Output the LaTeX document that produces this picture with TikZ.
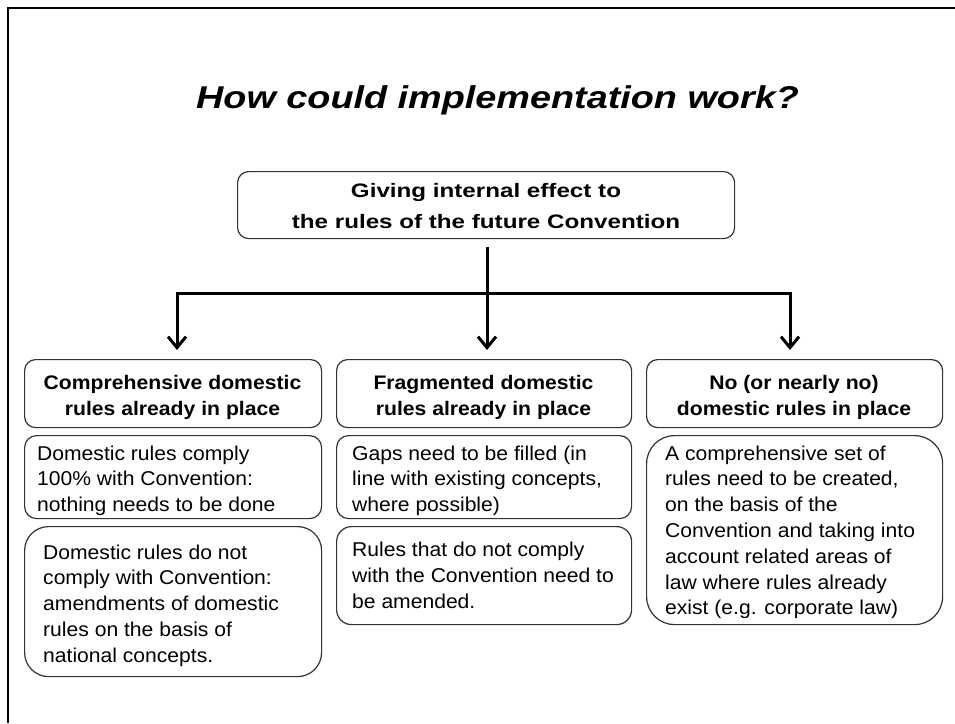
\documentclass[tikz,border=0pt]{standalone}
\usepackage{fontspec}
\setmainfont{Liberation Sans}
\newfontfamily\titlef[FakeStretch=1.2]{Liberation Sans}
\newfontfamily\topf[FakeStretch=1.24]{Liberation Sans}
\newfontfamily\headf[FakeStretch=1.08]{Liberation Sans}
\newfontfamily\bodyf[FakeStretch=1.055]{Liberation Sans}
\usetikzlibrary{arrows.meta}
\newcommand\bodysz{\bodyf\fontsize{20}{25.8}\selectfont}
\newcommand\headsz{\headf\bfseries\fontsize{19.6}{26}\selectfont}
\begin{document}
\begin{tikzpicture}[x=1pt,y=-1pt,
  box/.style={draw=black!80, line width=1.2pt, rounded corners=#1, inner sep=0pt,
    anchor=north west, fill=white},
  box/.default=11pt,
  txt/.style={inner sep=0pt, anchor=base west, text=black},
  ctxt/.style={inner sep=0pt, anchor=base, text=black},
  conn/.style={draw=black, line width=3pt, line join=miter},
  tip/.tip={Straight Barb[length=11pt,width=18pt]}]
\useasboundingbox (0,0) rectangle (955,723);
% frame
\draw[line width=2.5pt, line join=miter] (8,723) -- (8,8) -- (955,8);
% title
\node[ctxt] (title) at (497.5,108)
  {\titlef\bfseries\itshape\fontsize{31.5}{36}\selectfont How could implementation work?};
% top box
\node[box=11pt, minimum width=497pt, minimum height=67pt] (top) at (237,171) {};
\node[ctxt] (toptxt) at (486,197.7)
  {\parbox[t]{480pt}{\centering\topf\bfseries\fontsize{19.5}{30.3}\selectfont
   Giving internal effect to\\the rules of the future Convention}};
% column boxes
\node[box=11pt, minimum width=297pt, minimum height=68pt] (L1) at (24,359) {};
\node[box=12pt, minimum width=297pt, minimum height=83pt] (L2) at (24,435) {};
\node[box=24pt, minimum width=297pt, minimum height=150pt] (L3) at (24,526) {};
\node[box=11pt, minimum width=295pt, minimum height=68pt] (M1) at (336,359) {};
\node[box=12pt, minimum width=295pt, minimum height=83pt] (M2) at (336,435) {};
\node[box=15pt, minimum width=295pt, minimum height=98pt] (M3) at (336,526) {};
\node[box=11pt, minimum width=296pt, minimum height=68pt] (R1) at (646,359) {};
\node[box=28pt, minimum width=296pt, minimum height=189pt] (R2) at (646,435) {};
% header texts
\node[ctxt] (L1t) at (172.5,389)
  {\parbox[t]{297pt}{\centering\headsz Comprehensive domestic\\rules already in place}};
\node[ctxt] (M1t) at (483.5,389)
  {\parbox[t]{295pt}{\centering\headsz Fragmented domestic\\rules already in place}};
\node[ctxt] (R1t) at (794,389)
  {\parbox[t]{296pt}{\centering\headsz No (or nearly no)\\domestic rules in place}};
% body texts
\node[txt] (L2t) at (37,460)
  {\parbox[t]{300pt}{\bodysz Domestic rules comply\\100\% with Convention:\\nothing needs to be done}};
\node[txt] (L3t) at (43,559)
  {\parbox[t]{300pt}{\bodysz Domestic rules do not\\comply with Convention:\\amendments of domestic\\rules on the basis of\\national concepts.}};
\node[txt] (M2t) at (352,460)
  {\parbox[t]{300pt}{\bodysz Gaps need to be filled (in\\line with existing concepts,\\where possible)}};
\node[txt] (M3t) at (352,556.5)
  {\parbox[t]{300pt}{\bodysz Rules that do not comply\\with the Convention need to\\be amended.}};
\node[txt] (R2t) at (665,460)
  {\parbox[t]{300pt}{\bodysz A comprehensive set of\\rules need to be created,\\on the basis of the\\Convention and taking into\\account related areas of\\law where rules already\\exist (e.g. corporate law)}};
% connectors
\coordinate (s0) at (487,247);
\coordinate (jn) at (487,293);
\coordinate (jl) at (177,293);
\coordinate (jr) at (790,293);
\draw[conn] (s0) -- (jn);
\draw[conn, {tip}-{tip}, shorten <=9pt, shorten >=9pt]
  (jl |- L1.north) -- (jl) -- (jr) -- (jr |- R1.north);
\draw[conn, -{tip}, shorten >=9pt] (jn) -- (jn |- M1.north);
\end{tikzpicture}
\end{document}
